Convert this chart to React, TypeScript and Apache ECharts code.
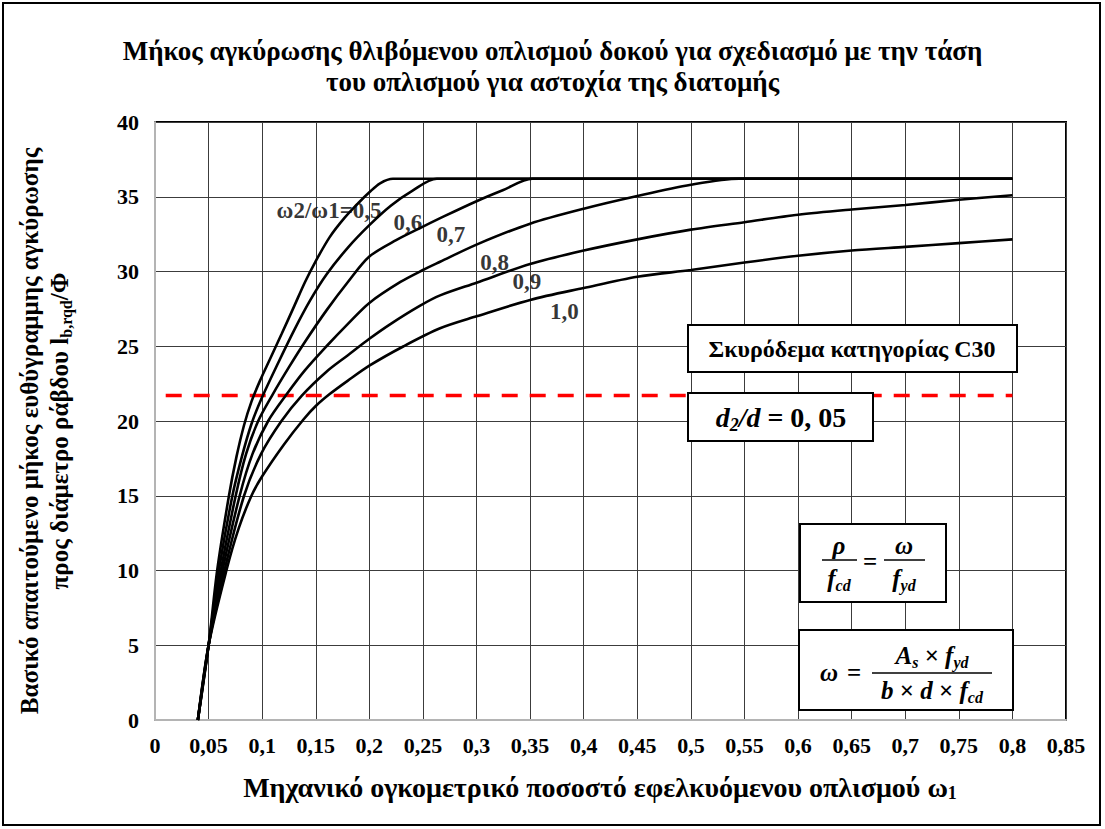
import React, { useEffect, useRef } from "react";
import * as echarts from "echarts";

const W = 1105;
const H = 829;
const SERIF = "Liberation Serif";

// ω2/ω1 ratio of each curve
const ratioLabels = ["ω2/ω1=0,5", "0,6", "0,7", "0,8", "0,9", "1,0"];

// [ω1, lb,rqd/Φ] points of each curve
const curve05 = [[0.04, 0], [0.05, 5], [0.058, 10], [0.069, 15], [0.076, 17.6], [0.083, 19.7], [0.09, 21.3], [0.098, 22.7], [0.107, 24.1], [0.118, 25.8], [0.13, 27.7], [0.14, 29.3], [0.15, 30.7], [0.163, 32.3], [0.177, 33.6], [0.19, 34.6], [0.2, 35.3], [0.21, 35.9], [0.222, 36.2], [0.8, 36.2]];
const curve06 = [[0.04, 0], [0.05, 5], [0.0596, 10], [0.0722, 15], [0.081, 17.6], [0.09, 19.8], [0.1, 21.6], [0.115, 23.9], [0.13, 26.1], [0.145, 28.1], [0.16, 29.8], [0.18, 31.6], [0.2, 33.1], [0.22, 34.4], [0.24, 35.4], [0.263, 36.2], [0.8, 36.2]];
const curve07 = [[0.04, 0], [0.05, 5], [0.0614, 10], [0.0753, 15], [0.085, 17.8], [0.0963, 20], [0.11, 21.8], [0.125, 23.6], [0.14, 25.3], [0.16, 27.4], [0.18, 29.3], [0.2, 31.0], [0.225, 32.1], [0.25, 33.0], [0.27, 33.7], [0.3, 34.7], [0.325, 35.45], [0.352, 36.2], [0.8, 36.2]];
const curve08 = [[0.04, 0], [0.05, 5], [0.063, 10], [0.079, 15], [0.091, 17.8], [0.1056, 20], [0.123, 21.8], [0.14, 23.4], [0.16, 25.0], [0.18, 26.5], [0.2, 27.9], [0.229, 29.3], [0.25, 30.1], [0.266, 30.65], [0.3, 31.8], [0.35, 33.2], [0.4, 34.2], [0.45, 35.05], [0.5, 35.8], [0.545, 36.2], [0.8, 36.2]];
const curve09 = [[0.04, 0], [0.05, 5], [0.0648, 10], [0.0831, 15], [0.099, 17.8], [0.118, 20], [0.137, 21.7], [0.16, 23.3], [0.18, 24.4], [0.2, 25.5], [0.22, 26.5], [0.247, 27.7], [0.266, 28.4], [0.3, 29.25], [0.35, 30.5], [0.4, 31.4], [0.45, 32.15], [0.5, 32.8], [0.55, 33.3], [0.6, 33.8], [0.65, 34.15], [0.7, 34.45], [0.75, 34.8], [0.8, 35.1]];
const curve10 = [[0.04, 0], [0.05, 5], [0.0666, 10], [0.078, 12.8], [0.09, 15], [0.1, 16.3], [0.12, 18.4], [0.1385, 20.1], [0.15, 21.0], [0.163, 21.8], [0.18, 22.7], [0.2, 23.7], [0.232, 25.0], [0.266, 26.2], [0.3, 27.0], [0.35, 28.1], [0.4, 28.9], [0.45, 29.65], [0.5, 30.1], [0.55, 30.6], [0.6, 31.05], [0.65, 31.4], [0.7, 31.65], [0.75, 31.9], [0.8, 32.15]];
const curves = [curve05, curve06, curve07, curve08, curve09, curve10];

// anchor of each ratio label, in data units
const labelAnchors = [[0.1624, 34.05], [0.236, 33.3], [0.276, 32.5], [0.317, 30.6], [0.347, 29.3], [0.382, 27.3]];

// reference level (red dashed line)
const thresholdValue = 21.7;
const thresholdRange = [0.01, 0.8];

const titleLines = [
  "Μήκος αγκύρωσης θλιβόμενου οπλισμού δοκού για σχεδιασμό με την τάση",
  "του οπλισμού για αστοχία της διατομής",
];
const concreteText = "Σκυρόδεμα κατηγορίας C30";

const fmtComma = (v: number) => String(Math.round(v * 100) / 100).replace(".", ",");

const mathRich = (size: number) => ({
  m: { fontFamily: SERIF, fontWeight: "bold", fontStyle: "italic", fontSize: size, lineHeight: size + 6, fill: "#000" },
  u: { fontFamily: SERIF, fontWeight: "bold", fontSize: size, lineHeight: size + 6, fill: "#000" },
  s: { fontFamily: SERIF, fontWeight: "bold", fontStyle: "italic", fontSize: Math.round(size * 0.65), lineHeight: Math.round(size * 0.65), verticalAlign: "bottom", fill: "#000" },
});

export default function App() {
  const ref = useRef<HTMLDivElement>(null);

  useEffect(() => {
    const chart = echarts.init(ref.current!, null, { renderer: "svg" });

    const bold = (size: number) => ({ fontFamily: SERIF, fontWeight: "bold", fontSize: size, fill: "#000" });
    const Z = 100;
    const box = (x: number, y: number, w: number, h: number) => ({
      type: "rect", z: Z, shape: { x, y, width: w, height: h }, style: { fill: "#fff", stroke: "#000", lineWidth: 2 },
    });
    const text = (x: number, y: number, t: string, rich: any) => ({
      type: "text", z: Z + 1, x, y,
      style: { text: t, rich, align: "center", verticalAlign: "middle" },
    });
    const hline = (x1: number, x2: number, y: number) => ({
      type: "line", z: Z + 1, shape: { x1, y1: y, x2, y2: y }, style: { stroke: "#000", lineWidth: 1.6 },
    });

    const mr = mathRich(25);
    const mrBig = mathRich(28);

    chart.setOption({
      animation: false,
      backgroundColor: "#fff",
      title: {
        text: titleLines.join("\n"),
        left: "center",
        top: 30,
        textStyle: { fontFamily: SERIF, fontWeight: "bold", fontSize: 27, lineHeight: 31, color: "#000" },
      },
      grid: {
        left: 155, right: 39, top: 122, bottom: 109,
        show: true, backgroundColor: "#fff", borderColor: "#000", borderWidth: 2,
      },
      xAxis: {
        type: "value", min: 0, max: 0.85, interval: 0.05,
        axisLine: { lineStyle: { color: "#b4b4b4", width: 2 } },
        axisTick: { show: false },
        splitLine: { lineStyle: { color: "#3c3c3c", width: 1 } },
        axisLabel: { formatter: fmtComma, fontFamily: SERIF, fontWeight: "bold", fontSize: 22, color: "#000", margin: 14 },
      },
      yAxis: {
        type: "value", min: 0, max: 40, interval: 5,
        axisLine: { show: true, lineStyle: { color: "#b4b4b4", width: 2 } },
        axisTick: { show: false },
        splitLine: { lineStyle: { color: "#3c3c3c", width: 1 } },
        axisLabel: { fontFamily: SERIF, fontWeight: "bold", fontSize: 22, color: "#000", margin: 16 },
      },
      series: [
        ...curves.map((c, i) => ({
          type: "line", name: ratioLabels[i], data: c, showSymbol: false, smooth: 0.3, z: 3,
          lineStyle: { color: "#000", width: 2.6 },
        })),
        {
          type: "line", name: "limit", showSymbol: false, z: 2,
          data: thresholdRange.map((x) => [x, thresholdValue]),
          lineStyle: { color: "#ff0000", width: 3.5, type: [16, 12] },
        },
        {
          type: "scatter", name: "labels", symbolSize: 0, silent: true, z: 4,
          data: labelAnchors.map((p, i) => ({ value: p, name: ratioLabels[i] })),
          label: { show: true, position: "inside", formatter: "{b}", fontFamily: SERIF, fontWeight: "bold", fontSize: 23, color: "#000" },
        },
      ],
      graphic: [
        { type: "rect", z: Z, shape: { x: 3, y: 3, width: 1097, height: 822 }, style: { fill: "transparent", stroke: "#000", lineWidth: 2 } },
        // y axis title
        {
          type: "text", z: Z, x: 44, y: 431, rotation: Math.PI / 2,
          style: {
            text: "{a|Βασικό απαιτούμενο μήκος ευθύγραμμης αγκύρωσης}\n{a|προς διάμετρο ράβδου l}{s|b,rqd}{a|/Φ}",
            align: "center", verticalAlign: "middle",
            rich: {
              a: { ...bold(25), lineHeight: 30 },
              s: { ...bold(16), lineHeight: 16, verticalAlign: "bottom" },
            },
          },
        },
        // x axis title
        text(600, 787, "{a|Μηχανικό ογκομετρικό ποσοστό εφελκυόμενου οπλισμού ω}{s|1}", {
          a: { ...bold(28), lineHeight: 30 },
          s: { ...bold(18), lineHeight: 18, verticalAlign: "bottom" },
        }),
        // concrete class
        box(688, 325, 329, 47),
        text(852, 349, "{a|" + concreteText + "}", { a: { ...bold(24) } }),
        // d2/d
        box(688, 393, 185, 48),
        text(781, 417, "{m|d}{s|2}{m|/d}{u| = 0, 05}", mrBig),
        // ρ/fcd = ω/fyd
        box(800, 524, 146, 78),
        text(839, 545, "{m|ρ}", mr),
        hline(822, 857, 560),
        text(839, 578, "{m|f}{s|cd}", mr),
        text(870, 561, "{u|=}", mr),
        text(904, 545, "{m|ω}", mr),
        hline(884, 925, 560),
        text(904, 578, "{m|f}{s|yd}", mr),
        // ω = As·fyd / (b·d·fcd)
        box(799, 630, 214, 80),
        text(829, 672, "{m|ω}", mr),
        text(854, 672, "{u|=}", mr),
        text(932, 655, "{m|A}{s|s}{u| × }{m|f}{s|yd}", mr),
        hline(872, 992, 673),
        text(932, 690, "{m|b}{u| × }{m|d}{u| × }{m|f}{s|cd}", mr),
      ],
    });

    return () => chart.dispose();
  }, []);

  return (
    <div
      ref={ref}
      style={{ position: "absolute", left: 0, top: 0, width: W, height: H, background: "#fff" }}
    />
  );
}
